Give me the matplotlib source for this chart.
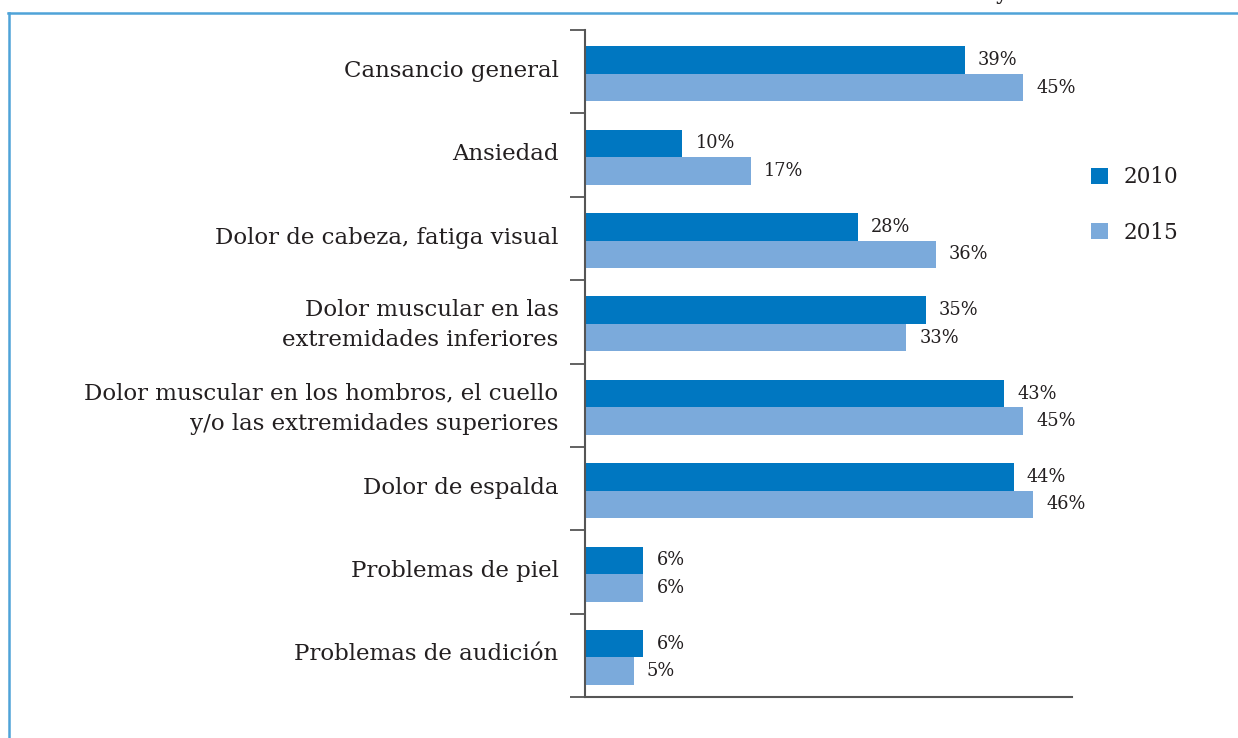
import matplotlib.pyplot as plt
import numpy as np
from matplotlib.ticker import FixedLocator

# data
categorias = [
    "Cansancio general",
    "Ansiedad",
    "Dolor de cabeza, fatiga visual",
    "Dolor muscular en las\nextremidades inferiores",
    "Dolor muscular en los hombros, el cuello\ny/o las extremidades superiores",
    "Dolor de espalda",
    "Problemas de piel",
    "Problemas de audición",
]
val_2010 = [39, 10, 28, 35, 43, 44, 6, 6]
val_2015 = [45, 17, 36, 33, 45, 46, 6, 5]
anios = ["2010", "2015"]

COL_2010 = "#0077c1"
COL_2015 = "#7baadb"
TXT = "#231f20"
AXC = "#555555"

plt.rcParams['font.family'] = ['DejaVu Serif']

fig = plt.figure(figsize=(12.38, 7.38), dpi=100)
ax = fig.add_axes([585 / 1238, 1 - 697 / 738, (1072 - 585) / 1238, (697 - 30) / 738])

y = np.arange(len(categorias))
h = 0.33
b1 = ax.barh(y - 0.14, val_2010, height=h, color=COL_2010, label=anios[0])
b2 = ax.barh(y + 0.19, val_2015, height=h, color=COL_2015, label=anios[1])

for bars, vals in ((b1, val_2010), (b2, val_2015)):
    for rect, v in zip(bars, vals):
        ax.annotate(f"{v}%", (rect.get_width(), rect.get_y() + rect.get_height() / 2),
                    xytext=(9.5, 0), textcoords="offset points",
                    ha="left", va="center", fontsize=12.8, color=TXT)

ax.set_xlim(0, 50)
ax.set_ylim(len(categorias) - 0.5, -0.5)

# category labels without tick marks (nudged up a bit), boundary ticks as minor
ax.set_yticks(y - 0.04)
ax.set_yticklabels(categorias, fontsize=16.5, color=TXT, linespacing=1.5)
ax.tick_params(axis="y", which="major", length=0, pad=19)
ax.yaxis.set_minor_locator(FixedLocator(np.arange(-0.5, len(categorias), 1.0)))
ax.tick_params(axis="y", which="minor", length=11, width=1.3, color=AXC)
ax.set_xticks([])

for s in ("top", "right"):
    ax.spines[s].set_visible(False)
ax.spines["left"].set_color(AXC)
ax.spines["left"].set_linewidth(1.5)
ax.spines["bottom"].set_color(AXC)
ax.spines["bottom"].set_linewidth(1.5)

leg = fig.legend(handles=[b1, b2], labels=anios, loc="upper left",
                 bbox_to_anchor=(1072 / 1238, 1 - 147 / 738), frameon=False,
                 fontsize=15.5, handlelength=0.75, handleheight=0.75,
                 labelspacing=1.55, handletextpad=0.75)
for t in leg.get_texts():
    t.set_color(TXT)

# frame lines of the page box
fig.add_artist(plt.Line2D([8 / 1238, 1], [1 - 13 / 738] * 2, color="#4fa3d8", lw=1.8))
fig.add_artist(plt.Line2D([8.5 / 1238] * 2, [0, 1 - 13 / 738], color="#4fa3d8", lw=1.8))
# cut-off text above the box (only its descender shows, as in the source)
fig.text(996 / 1238, 1 + 1 / 738, "y", fontsize=15.5, color=TXT, va="baseline")

fig.savefig("out.png", dpi=100)
